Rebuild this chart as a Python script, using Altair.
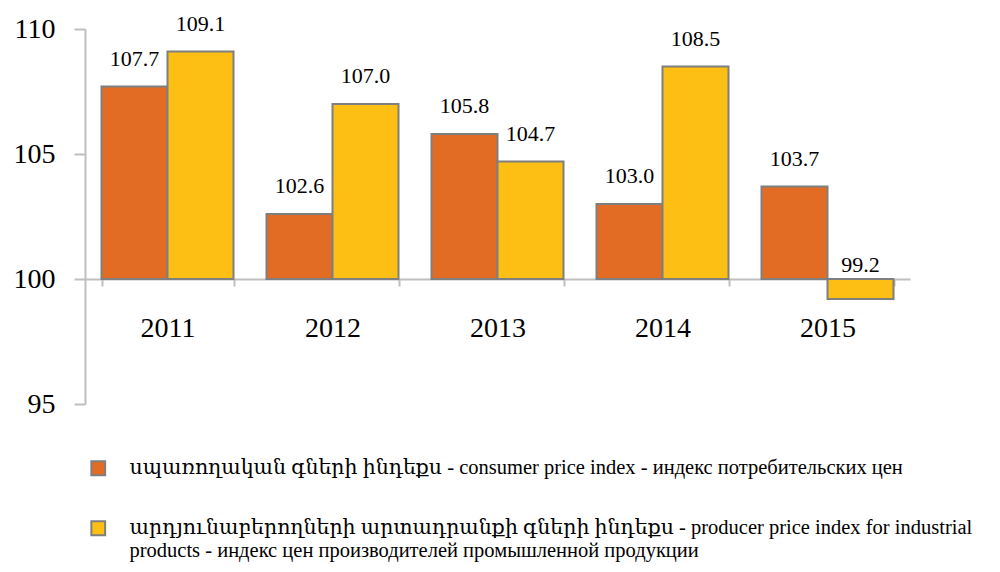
import altair as alt
import pandas as pd

years = ["2011", "2012", "2013", "2014", "2015"]
cpi = [107.7, 102.6, 105.8, 103.0, 103.7]
ppi = [109.1, 107.0, 104.7, 108.5, 99.2]
series_names = [
    "սպառողական գների ինդեքս - consumer price index - индекс потребительских цен",
    "արդյունաբերողների արտադրանքի գների ինդեքս - producer price index for industrial\nproducts - индекс цен производителей промышленной продукции",
]
colors = ["#E36C25", "#FDBF13"]

rows = []
for i, y in enumerate(years):
    rows.append({"year": y, "series": series_names[0], "order": 0, "value": cpi[i]})
    rows.append({"year": y, "series": series_names[1], "order": 1, "value": ppi[i]})
df = pd.DataFrame(rows)
df["lbl"] = df["value"].map(lambda v: f"{v:.1f}")

W, H = 825, 375
FONT = "Liberation Serif, DejaVu Serif, serif"

x = alt.X("year:N", sort=years, title=None,
          scale=alt.Scale(paddingInner=0.2, paddingOuter=0.1),
          axis=alt.Axis(orient="bottom", offset=-H * 5 / 15, labelAngle=0,
                        labelFont=FONT, labelFontSize=28, labelColor="#000",
                        domainColor="#BFBFBF", domainWidth=2,
                        tickColor="#BFBFBF", tickWidth=2, tickSize=7,
                        tickBand="extent", labelPadding=28))
xo = alt.XOffset("order:O", scale=alt.Scale(paddingInner=0, paddingOuter=0))

bars = alt.Chart(df).mark_bar(stroke="#7F7F7F", strokeWidth=2).encode(
    x=x,
    xOffset=xo,
    y=alt.Y("value:Q", title=None,
            scale=alt.Scale(domain=[95, 110], nice=False, zero=False),
            axis=alt.Axis(values=[95, 100, 105, 110], grid=False,
                          labelFont=FONT, labelFontSize=28, labelColor="#000",
                          domainColor="#BFBFBF", domainWidth=2,
                          tickColor="#BFBFBF", tickWidth=2, tickSize=11,
                          labelPadding=19)),
    y2=alt.datum(100),
    color=alt.Color("series:N", sort=series_names,
                    scale=alt.Scale(domain=series_names, range=colors),
                    legend=alt.Legend(title=None, orient="none", legendX=3, legendY=429,
                                      direction="vertical", symbolType="square",
                                      symbolSize=190, symbolStrokeColor="#7F7F7F",
                                      symbolStrokeWidth=2, labelFont=FONT,
                                      labelFontSize=20.5, labelColor="#000",
                                      labelLimit=1000, labelOffset=21, rowPadding=37,
                                      labelExpr="split(datum.label, '\\n')")),
)

labels_up = alt.Chart(df).transform_filter("datum.value >= 100").mark_text(
    font=FONT, fontSize=22, dy=-28, color="#000").encode(
    x=alt.X("year:N", sort=years),
    xOffset=xo,
    y=alt.Y("value:Q"),
    text="lbl:N",
)

labels_down = alt.Chart(df).transform_filter("datum.value < 100").mark_text(
    font=FONT, fontSize=22, dy=-14, color="#000").encode(
    x=alt.X("year:N", sort=years),
    xOffset=xo,
    y=alt.datum(100),
    text="lbl:N",
)

chart = alt.layer(bars, labels_up, labels_down).properties(
    width=W, height=H,
    padding={"left": 5, "top": 4, "right": 5, "bottom": 0},
).configure_view(stroke=None)

chart.save("out.html", embed_options={"renderer": "svg", "actions": False})
